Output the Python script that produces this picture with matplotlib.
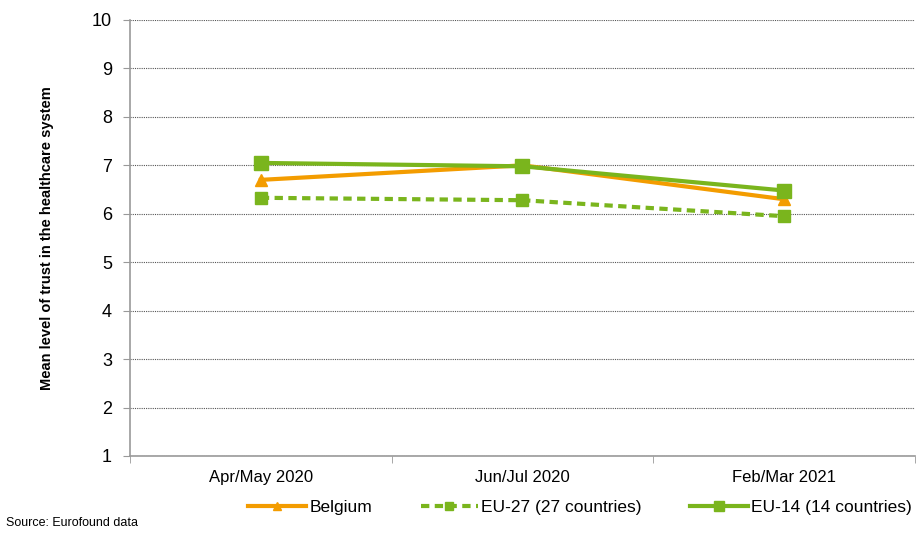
import numpy as np
import matplotlib
matplotlib.use("Agg")
import matplotlib.pyplot as plt

plt.rcParams['font.family'] = ['Liberation Sans', 'DejaVu Sans']

waves = ['Apr/May 2020', 'Jun/Jul 2020', 'Feb/Mar 2021']
belgium = [6.70, 7.00, 6.30]
eu27 = [6.33, 6.28, 5.95]
eu14 = [7.05, 6.98, 6.48]

orange = '#F39C00'
green = '#7AB51D'

fig = plt.figure(figsize=(9.2, 5.36), dpi=100)
ax = fig.add_axes([130/920, 1-456/536, 785/920, 436/536])

x = np.arange(len(waves))
ax.plot(x, belgium, color=orange, lw=3, marker='^', ms=8, label='Belgium', zorder=3)
ax.plot(x, eu27, color=green, lw=3, ls=(0, (2, 1.3)), marker='s', ms=8,
        label='EU-27 (27 countries)', zorder=3)
ax.plot(x, eu14, color=green, lw=3, marker='s', ms=10, label='EU-14 (14 countries)', zorder=4)

ax.set_xlim(-0.5, 2.5)
ax.set_ylim(1, 10)
ax.set_yticks(range(1, 11))
ax.set_xticks(x)
ax.set_xticklabels(waves, fontsize=12)
ax.set_xticks([-0.5, 0.5, 1.5, 2.5], minor=True)
ax.tick_params(axis='x', which='major', length=0, pad=10)
ax.tick_params(axis='x', which='minor', length=5, color='#999999')
ax.tick_params(axis='y', length=5, color='#999999', labelsize=13, pad=8)
ax.yaxis.grid(True, ls=(0, (1, 1)), color='#555555', lw=0.8)
ax.set_axisbelow(True)
for s in ['top', 'right']:
    ax.spines[s].set_visible(False)
for s in ['left', 'bottom']:
    ax.spines[s].set_color('#999999')
    ax.spines[s].set_linewidth(1.2)

ax.set_ylabel('Mean level of trust in the healthcare system', fontsize=10.5,
              fontweight='bold', labelpad=27)

ax.legend(loc='upper right', bbox_to_anchor=(1.005, -0.085), ncol=3, frameon=False,
          fontsize=12.5, handlelength=3.3, handletextpad=0.2, columnspacing=2.8,
          markerscale=0.75, borderaxespad=0)

fig.text(6/920, 1-526/536, 'Source: Eurofound data', fontsize=9)

fig.savefig('out.png', dpi=100)
